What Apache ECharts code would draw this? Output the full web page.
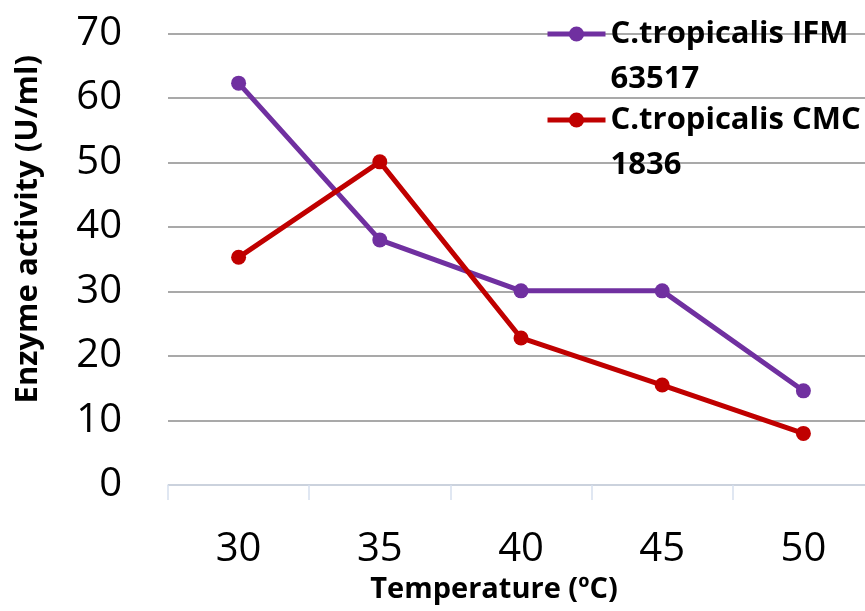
<!DOCTYPE html>
<html>
<head>
<meta charset="utf-8">
<script src="https://cdn.jsdelivr.net/npm/echarts@6/dist/echarts.min.js"></script>
<style>
  html, body { margin: 0; padding: 0; background: #fff; overflow: hidden; }
  #main { width: 874px; height: 611px; }
</style>
</head>
<body>
<div id="main"></div>
<script>
var temperatures = ['30', '35', '40', '45', '50'];
var ifm63517 = [62.3, 38.0, 30.1, 30.1, 14.6];
var cmc1836 = [35.3, 50.1, 22.8, 15.5, 8.0];
var yTicks = { min: 0, max: 70, interval: 10 };

var font = 'Open Sans';

var chart = echarts.init(document.getElementById('main'));

// blank first line keeps the legend icon level with the first text line
var legendText = {
    color: '#000',
    fontFamily: font,
    fontWeight: 'bold',
    fontSize: 31,
    lineHeight: 45
};

function legendFor(name, label, top) {
    return {
        data: [name],
        left: 545,
        top: top,
        padding: 0,
        itemWidth: 58,
        itemHeight: 19,
        lineStyle: { width: 5 },
        formatter: '\n' + label,
        textStyle: legendText
    };
}

chart.setOption({
    backgroundColor: '#fff',
    animation: false,
    grid: { left: 168, right: 0, top: 33.5, bottom: 126 },
    legend: [
        legendFor('C.tropicalis IFM 63517', 'C.tropicalis IFM\n63517', -33.5),
        legendFor('C.tropicalis CMC 1836', 'C.tropicalis CMC\n1836', 52.5)
    ],
    xAxis: {
        type: 'category',
        data: temperatures,
        boundaryGap: true,
        name: 'Temperature (ºC)',
        nameLocation: 'middle',
        nameGap: 88,
        nameTextStyle: {
            color: '#000', fontFamily: font, fontWeight: 'bold', fontSize: 29,
            padding: [0, 54, 0, 0]
        },
        axisLine: { lineStyle: { color: '#d6e0ee', width: 1.5 } },
        axisTick: { show: true, length: 15, lineStyle: { color: '#d6e0ee', width: 1.5 } },
        axisLabel: { color: '#000', fontFamily: font, fontSize: 40, margin: 45 },
        splitLine: { show: false }
    },
    yAxis: {
        type: 'value',
        min: yTicks.min,
        max: yTicks.max,
        interval: yTicks.interval,
        name: 'Enzyme activity (U/ml)',
        nameLocation: 'middle',
        nameRotate: 90,
        nameGap: 124,
        nameTextStyle: {
            color: '#000', fontFamily: font, fontWeight: 'bold', fontSize: 31,
            padding: [0, 0, 0, 60]
        },
        axisLine: { show: false },
        axisTick: { show: false },
        axisLabel: { color: '#000', fontFamily: font, fontSize: 40, margin: 46 },
        splitLine: { lineStyle: { color: '#8c8c8c', width: 1.5 } }
    },
    series: [{
        name: 'C.tropicalis IFM 63517',
        type: 'line',
        data: ifm63517,
        symbol: 'circle',
        symbolSize: 15,
        lineStyle: { color: '#7030a0', width: 5 },
        itemStyle: { color: '#7030a0' }
    }, {
        name: 'C.tropicalis CMC 1836',
        type: 'line',
        data: cmc1836,
        symbol: 'circle',
        symbolSize: 15,
        lineStyle: { color: '#c00000', width: 5 },
        itemStyle: { color: '#c00000' }
    }]
});
</script>
</body>
</html>
